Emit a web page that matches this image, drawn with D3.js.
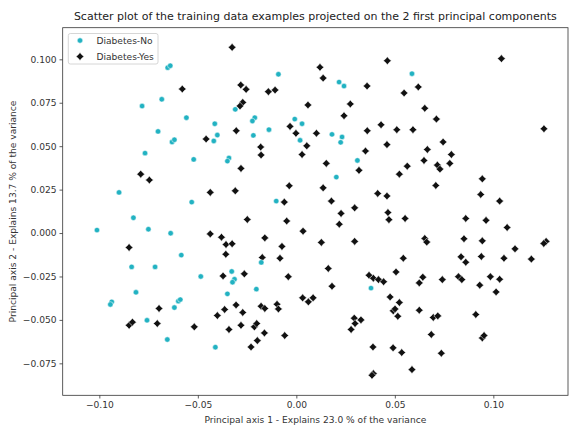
<!DOCTYPE html>
<html><head><meta charset="utf-8">
<script src="https://cdn.jsdelivr.net/npm/d3@7"></script>
<style>
body{margin:0;background:#fff}
svg{display:block}
text{font-family:"DejaVu Sans",sans-serif}
</style>
</head><body>
<svg id="chart" width="569" height="425"></svg>
<script>
const titleText = "Scatter plot of the training data examples projected on the 2 first principal components";
const xLabel = "Principal axis 1 - Explains 23.0 % of the variance";
const yLabel = "Principal axis 2 - Explains 13.7 % of the variance";
const categories = ["Diabetes-No", "Diabetes-Yes"];
const colors = ["#22b2c2", "#111111"];
const xTicks = [-0.10, -0.05, 0.00, 0.05, 0.10];
const yTicks = [-0.075, -0.050, -0.025, 0.000, 0.025, 0.050, 0.075, 0.100];

const noX = [-0.0653,-0.0640,-0.0783,-0.0683,-0.0558,-0.0702,-0.0414,-0.0401,-0.0631,-0.0619,
  -0.0419,-0.0768,-0.0091,0.0217,0.0242,-0.0310,-0.0211,-0.0223,-0.0008,0.0029,
  -0.0139,-0.0218,0.0019,0.0181,0.0232,0.0225,0.0587,-0.0521,-0.0900,-0.0531,
  -0.0827,-0.1012,-0.0751,-0.0638,-0.0584,-0.0836,-0.0717,-0.0485,-0.0342,-0.0350,
  0.0310,0.0203,-0.0102,-0.0178,-0.0328,-0.0314,-0.0324,-0.0814,-0.0937,-0.0944,
  -0.0619,-0.0599,-0.0589,-0.0758,-0.0655,-0.0411,-0.0350,-0.0203,0.0379];
const noY = [0.0952,0.0963,0.0731,0.0770,0.0664,0.0585,0.0629,0.0564,0.0524,0.0537,
  0.0530,0.0460,0.0914,0.0869,0.0846,0.0712,0.0664,0.0645,0.0656,0.0629,
  0.0595,0.0562,0.0534,0.0568,0.0553,0.0522,0.0917,0.0424,0.0234,0.0178,
  0.0088,0.0017,0.0022,-0.0001,-0.0127,-0.0195,-0.0195,-0.0250,0.0432,0.0414,
  0.0418,0.0322,0.0184,-0.0169,-0.0221,-0.0266,-0.0283,-0.0341,-0.0396,-0.0411,
  -0.0429,-0.0392,-0.0383,-0.0502,-0.0613,-0.0657,-0.0350,-0.0323,-0.0317];

const yesX = [-0.0579,-0.0458,-0.0326,0.0120,0.0136,0.0462,-0.0282,-0.0255,-0.0142,-0.0108,
  0.0359,-0.0272,-0.0286,0.0059,0.0274,0.0242,0.0430,-0.0305,-0.0032,-0.0002,
  0.0102,0.0360,0.0460,-0.0181,-0.0179,0.0053,0.0029,0.0351,0.1041,0.0619,
  0.0547,0.0652,0.0711,0.0510,0.0592,0.1257,0.0745,0.0665,0.0787,-0.0790,
  -0.0746,-0.0437,-0.0437,-0.0380,-0.0849,-0.0372,-0.0281,0.0152,0.0318,-0.0036,
  -0.0310,0.0136,-0.0061,0.0178,0.0413,0.0460,0.0296,0.0227,0.0218,0.0465,
  0.0470,-0.0249,-0.0049,0.0034,-0.0357,-0.0326,-0.0160,-0.0073,0.0127,0.0296,
  -0.0358,-0.0173,-0.0083,0.0162,-0.0264,-0.0041,0.0369,0.0391,0.0417,0.0443,
  0.0648,0.0563,0.0523,0.0716,0.0729,0.0779,0.0944,0.0708,0.0936,0.1032,
  0.0552,0.0860,0.0963,0.1070,0.0652,0.0662,0.0851,0.0944,0.1268,0.1256,
  0.1110,0.0543,0.0836,0.0860,0.0939,0.1054,0.1193,0.0506,0.0642,0.0741,
  0.0823,0.0840,0.0985,0.1032,-0.0697,-0.0849,-0.0832,-0.0706,-0.0518,-0.0401,
  -0.0364,0.0181,0.0032,0.0061,0.0085,-0.0306,-0.0272,-0.0179,-0.0160,-0.0098,
  -0.0091,-0.0342,-0.0281,-0.0213,-0.0201,-0.0162,-0.0198,-0.0230,-0.0059,0.0294,
  0.0328,0.0298,0.0278,0.0389,0.0391,0.0384,0.0624,0.0931,0.1014,0.0476,
  0.0523,0.0492,0.0501,0.0515,0.0624,0.0695,0.0718,0.0911,0.0685,0.0944,
  0.0953,0.0491,0.0535,0.0736,0.0587];
const yesY = [0.0829,0.0541,0.1069,0.0954,0.0892,0.0992,0.0852,0.0827,0.0814,0.0823,
  0.0846,0.0752,0.0731,0.0737,0.0743,0.0675,0.0623,0.0589,0.0614,0.0574,
  0.0574,0.0589,0.0509,0.0495,0.0449,0.0502,0.0452,0.0472,0.1004,0.0841,
  0.0806,0.0718,0.0656,0.0595,0.0595,0.0600,0.0524,0.0481,0.0452,0.0339,
  0.0305,0.0234,-0.0005,-0.0024,-0.0083,-0.0247,0.0372,0.0401,0.0361,0.0272,
  0.0243,0.0260,0.0178,0.0184,0.0228,0.0213,0.0145,0.0113,0.0051,0.0118,
  0.0077,0.0078,0.0069,0.0011,-0.0066,-0.0062,-0.0028,-0.0077,-0.0054,-0.0048,
  -0.0122,-0.0141,-0.0145,-0.0204,-0.0235,-0.0251,-0.0243,-0.0260,-0.0268,-0.0280,
  0.0418,0.0385,0.0339,0.0391,0.0368,0.0401,0.0312,0.0274,0.0222,0.0184,
  0.0084,0.0084,0.0073,0.0032,-0.0031,-0.0052,-0.0033,-0.0045,-0.0048,-0.0060,
  -0.0091,-0.0145,-0.0137,-0.0168,-0.0135,-0.0145,-0.0150,-0.0224,-0.0254,-0.0268,
  -0.0251,-0.0268,-0.0251,-0.0266,-0.0434,-0.0531,-0.0513,-0.0521,-0.0540,-0.0475,
  -0.0440,-0.0306,-0.0373,-0.0396,-0.0373,-0.0414,-0.0457,-0.0421,-0.0434,-0.0410,
  -0.0437,-0.0555,-0.0531,-0.0540,-0.0521,-0.0575,-0.0619,-0.0656,-0.0590,-0.0490,
  -0.0500,-0.0521,-0.0555,-0.0656,-0.0809,-0.0819,-0.0287,-0.0300,-0.0339,-0.0368,
  -0.0400,-0.0448,-0.0437,-0.0479,-0.0444,-0.0486,-0.0477,-0.0469,-0.0584,-0.0604,
  -0.0590,-0.0661,-0.0688,-0.0692,-0.0786];

const m = {left: 62.7, right: 568, top: 27.7, bottom: 395.3};
const svg = d3.select("#chart");

const x = d3.scaleLinear().domain([-0.1186, 0.1379]).range([m.left, m.right]);
const y = d3.scaleLinear().domain([-0.0934, 0.1182]).range([m.bottom, m.top]);

const fs = 9.1;

// axes
const xAxis = d3.axisBottom(x).tickValues(xTicks).tickFormat(d3.format(".2f")).tickSize(3.2).tickPadding(3);
const gx = svg.append("g").attr("transform", `translate(0,${m.bottom})`).call(xAxis);
const yAxis = d3.axisLeft(y).tickValues(yTicks).tickFormat(d3.format(".3f")).tickSize(3.2).tickPadding(3);
const gy = svg.append("g").attr("transform", `translate(${m.left},0)`).call(yAxis);
[gx, gy].forEach(g => {
  g.select(".domain").remove();
  g.selectAll(".tick line").attr("stroke", "#333").attr("stroke-width", 0.8);
  g.selectAll(".tick text").attr("fill", "#333").style("font-size", fs + "px").style("font-family", '"DejaVu Sans", sans-serif');
});

// frame
svg.append("rect").attr("x", m.left).attr("y", m.top)
  .attr("width", m.right - m.left).attr("height", m.bottom - m.top)
  .attr("fill", "none").attr("stroke", "#333").attr("stroke-width", 0.8);

// markers: chunky diamond-like shape
const markPath = (a, t) => `M0,${-a}L${t},${-t}L${a},0L${t},${t}L0,${a}L${-t},${t}L${-a},0L${-t},${-t}Z`;
const yesMark = markPath(4.0, 1.8);

const yesData = yesX.map((v, i) => ({x: v, y: yesY[i]}));
const noData = noX.map((v, i) => ({x: v, y: noY[i]}));

svg.append("g").selectAll("path").data(yesData).join("path")
  .attr("d", yesMark)
  .attr("transform", d => `translate(${x(d.x)},${y(d.y)})`)
  .attr("fill", colors[1]).attr("stroke", "#fff").attr("stroke-width", 0.5);

svg.append("g").selectAll("circle").data(noData).join("circle")
  .attr("cx", d => x(d.x)).attr("cy", d => y(d.y)).attr("r", 2.7)
  .attr("fill", colors[0]).attr("stroke", "#fff").attr("stroke-width", 0.5);

// title & labels
svg.append("text").attr("x", (m.left + m.right) / 2).attr("y", 19.5)
  .attr("text-anchor", "middle").style("font-size", "11px").attr("fill", "#222").text(titleText);
svg.append("text").attr("x", (m.left + m.right) / 2).attr("y", 423)
  .attr("text-anchor", "middle").style("font-size", fs + "px").attr("fill", "#333").text(xLabel);
svg.append("text").attr("transform", `translate(16,${(m.top + m.bottom) / 2}) rotate(-90)`)
  .attr("text-anchor", "middle").style("font-size", fs + "px").attr("fill", "#333").text(yLabel);

// legend
const lg = svg.append("g");
lg.append("rect").attr("x", 68.3).attr("y", 33.5).attr("width", 89.7).attr("height", 30.5)
  .attr("rx", 2).attr("fill", "#fff").attr("fill-opacity", 0.8).attr("stroke", "#ccc").attr("stroke-width", 0.8);
categories.forEach((c, i) => {
  const cy = 40.5 + i * 16;
  if (i === 0) {
    lg.append("circle").attr("cx", 80).attr("cy", cy).attr("r", 2.7).attr("fill", colors[0]).attr("stroke", "#fff").attr("stroke-width", 0.5);
  } else {
    lg.append("path").attr("d", yesMark).attr("transform", `translate(80,${cy})`).attr("fill", colors[1]).attr("stroke", "#fff").attr("stroke-width", 0.5);
  }
  lg.append("text").attr("x", 96.5).attr("y", cy + 3.3).style("font-size", fs + "px").attr("fill", "#333").text(c);
});
</script>
</body></html>
